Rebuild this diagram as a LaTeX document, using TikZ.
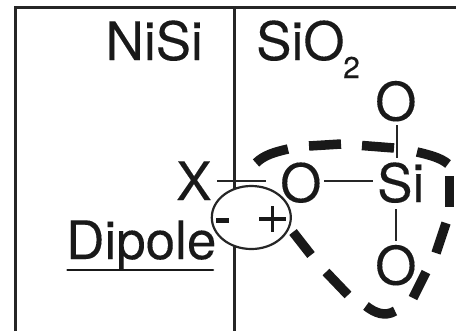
\documentclass[tikz,border=0pt]{standalone}
\usepackage{fontspec}
\usetikzlibrary{shapes.geometric}
\setmainfont[FakeBold=0.15]{TeX Gyre Heros}
\tikzset{
 lbl/.style={inner sep=0pt,anchor=base west,font=\fontsize{53bp}{53bp}\selectfont,text=black!90},
 frame/.style={line width=3bp,draw=black!85},
 bond/.style={line width=2bp,draw=black!85},
 blob/.style={line width=9.5bp,draw=black!90,line cap=butt},
}
\begin{document}
\begin{tikzpicture}[x=1bp,y=-1bp]
\useasboundingbox (0,0) rectangle (456,331);
\coordinate (fb) at (15.5,331);
\coordinate (ft) at (15.5,7.5);
\coordinate (fr) at (456,7.5);
\coordinate (mt) at (234,7.5);
\coordinate (mb) at (234,331);
\draw[frame] (fb) -- (ft) -- (fr);
\draw[frame] (mt) -- (mb);
\node[lbl] (nisi) at (105.5,60) {NiSi};
\node[lbl] (sio) at (256,60) {SiO};
\node[lbl,font=\fontsize{30bp}{30bp}\selectfont] (two) at (343,78) {2};
\node[lbl] (x) at (176,200) {X};
\node[lbl] (dip) at (66,259) {Dipole};
\node[lbl] (o1) at (280,202) {O};
\node[lbl] (si) at (377,202) {Si};
\node[lbl] (o2) at (375,120.5) {O};
\node[lbl] (o3) at (375,284.5) {O};
\coordinate (xb) at (217,181);
\coordinate (xe) at (266,181);
\draw[bond] (xb) -- (xe);
\coordinate (b1a) at (324,181);
\coordinate (b1b) at (373,181);
\draw[bond] (b1a) -- (b1b);
\coordinate (b2a) at (397,125);
\coordinate (b2b) at (397,158);
\draw[bond] (b2a) -- (b2b);
\coordinate (b3a) at (396,209);
\coordinate (b3b) at (396,241);
\draw[bond] (b3a) -- (b3b);
\coordinate (ua) at (67.5,270);
\coordinate (ub) at (213,270);
\draw[line width=2.6bp,draw=black!90,line cap=round] (ua) -- (ub);
\node[draw=black!85,fill=white,ellipse,line width=2.2bp,minimum width=79bp,minimum height=63bp,inner sep=0pt] (dipole) at (251.3,217.5) {};
\draw[line width=5bp,draw=black!90] (216,220) -- (229,220);
\draw[line width=3.8bp,draw=black!90] (259,219) -- (286,219) (272.5,206) -- (272.5,232);
\draw[blob] (256,163) .. controls (264,155) and (275,152) .. (288,149);
\draw[blob] (309,146) -- (341,144);
\draw[blob] (362,145.5) -- (394,148);
\draw[blob] (417,152) .. controls (430,155) and (441,158) .. (448,164);
\draw[blob] (449.5,176) -- (449.5,207);
\draw[blob] (446,223) -- (436,253);
\draw[blob] (426,272) -- (413,298);
\draw[blob] (366,306) .. controls (375,313) and (385,317) .. (395,311);
\draw[blob] (348,295) -- (326,272);
\draw[blob] (311,255) -- (293,232);
\end{tikzpicture}
\end{document}
